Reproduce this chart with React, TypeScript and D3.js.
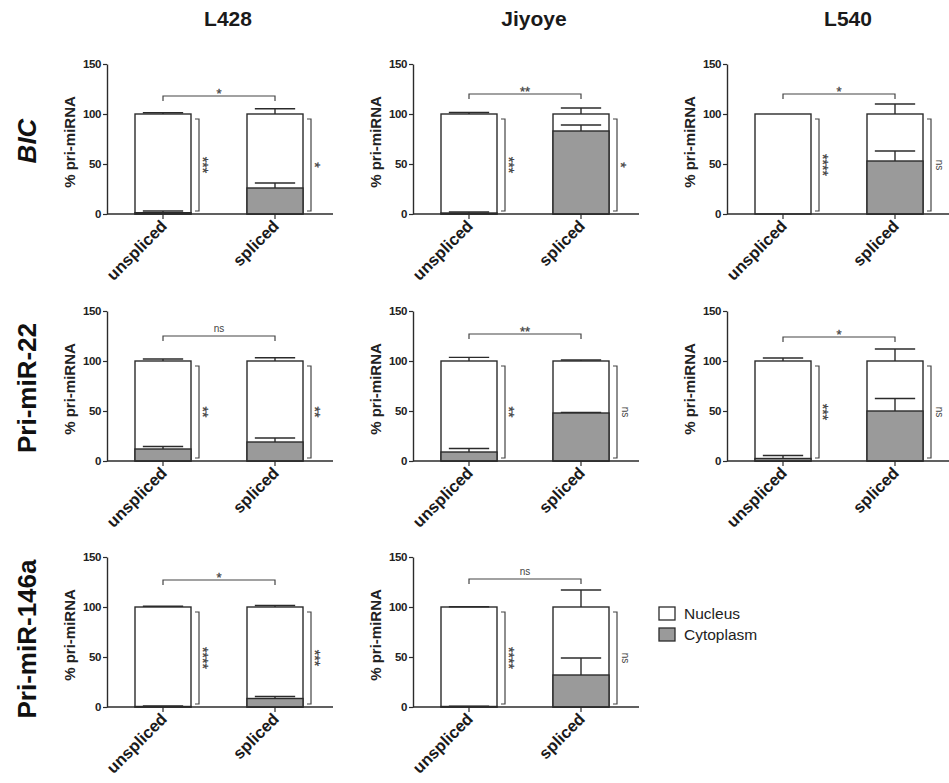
import { select, scaleLinear, scaleBand, axisLeft, axisBottom } from "d3";
import { useEffect, useRef } from "react";

const width = 949;
const height = 783;

const cellLines = ["L428", "Jiyoye", "L540"];
const transcripts = ["BIC", "Pri-miR-22", "Pri-miR-146a"];
const categories = ["unspliced", "spliced"];
const yTicks = [0, 50, 100, 150];

// one entry per panel, read row by row
const panelRow = [0, 0, 0, 1, 1, 1, 2, 2];
const panelCol = [0, 1, 2, 0, 1, 2, 0, 1];
const cytoplasm = [[1.3, 26], [1, 83], [0, 53], [12, 19], [9, 48], [2.5, 50], [0.5, 8.5], [0.5, 32]];
const cytoplasmErr = [[1.7, 5], [1, 6], [0, 10], [2.5, 4], [3.5, 0.6], [3, 12.5], [0.5, 2], [0.3, 17]];
const totalErr = [[1.3, 5.3], [1.5, 6], [0, 10], [2, 3.3], [3.6, 1], [3, 12], [0.7, 1.5], [0.3, 17]];
const compareLevel = [118, 120, 120, 125, 127, 124, 127, 128];
const compareSig = ["*", "**", "*", "ns", "**", "*", "*", "ns"];
const fractionSig = [
  ["***", "*"], ["***", "*"], ["****", "ns"], ["**", "**"],
  ["**", "ns"], ["***", "ns"], ["****", "***"], ["****", "ns"],
];

const legendLabels = ["Nucleus", "Cytoplasm"];
const fills = ["#ffffff", "#9a9a9a"];

const colX = [107, 413, 727];
const rowTop = [64, 311, 557];
const plotH = 150;
const axisW = 226;
const font = "'Liberation Sans', Arial, Helvetica, sans-serif";
const ink = "#2b2b2b";
const sigInk = "#444";

const App = () => {
  const ref = useRef(null);

  useEffect(() => {
    const svg = select(ref.current);
    svg.selectAll("*").remove();
    svg.style("font-family", font);

    // column titles
    cellLines.forEach((name, i) => {
      svg.append("text")
        .attr("x", colX[i] + 121).attr("y", 26)
        .attr("text-anchor", "middle")
        .attr("font-size", 21).attr("font-weight", "bold").attr("fill", "#1a1a1a")
        .text(name);
    });

    // row titles
    transcripts.forEach((name, i) => {
      svg.append("text")
        .attr("transform", `translate(27,${rowTop[i] + 77 + (i === 2 ? 5 : 0)}) rotate(-90)`)
        .attr("dy", "0.36em")
        .attr("text-anchor", "middle")
        .attr("font-size", 26).attr("font-weight", "bold")
        .attr("font-style", i === 0 ? "italic" : "normal")
        .attr("fill", "#111")
        .text(name);
    });

    panelRow.forEach((r, p) => {
      const c = panelCol[p];
      const g = svg.append("g").attr("transform", `translate(${colX[c]},${rowTop[r]})`);
      const y = scaleLinear().domain([0, 150]).range([plotH, 0]);
      const x = scaleBand().domain(categories).range([0, 224]).paddingInner(0.5).paddingOuter(0.25);
      const bw = x.bandwidth();
      const cap = bw * 0.36;

      // y axis
      const ya = g.append("g").call(axisLeft(y).tickValues(yTicks).tickSize(4).tickSizeOuter(0).tickPadding(2));
      ya.select(".domain").attr("stroke", ink).attr("stroke-width", 1.4);
      ya.selectAll(".tick line").attr("stroke", ink).attr("stroke-width", 1.2);
      ya.selectAll(".tick text")
        .attr("font-family", font).attr("font-size", 11.5).attr("font-weight", "bold")
        .attr("letter-spacing", -0.4).attr("fill", "#222");

      g.append("text")
        .attr("transform", `translate(-37,${plotH / 2 + 3}) rotate(-90)`)
        .attr("dy", "0.36em")
        .attr("text-anchor", "middle")
        .attr("font-size", 15).attr("font-weight", "bold").attr("fill", "#222")
        .text("% pri-miRNA");

      // bars
      categories.forEach((cat, k) => {
        const x0 = x(cat);
        const cx = x0 + bw / 2;
        const cy = cytoplasm[p][k];
        g.append("rect")
          .attr("x", x0).attr("y", y(100)).attr("width", bw).attr("height", y(0) - y(100))
          .attr("fill", fills[0]).attr("stroke", ink).attr("stroke-width", 1.4);
        if (cy > 0) {
          g.append("rect")
            .attr("x", x0).attr("y", y(cy)).attr("width", bw).attr("height", y(0) - y(cy))
            .attr("fill", fills[1]).attr("stroke", ink).attr("stroke-width", 1.4);
        }
        const errs = [[100, totalErr[p][k]], [cy, cytoplasmErr[p][k]]];
        errs.forEach(([v, e]) => {
          if (e <= 0) return;
          g.append("line")
            .attr("x1", cx).attr("x2", cx).attr("y1", y(v)).attr("y2", y(v + e))
            .attr("stroke", ink).attr("stroke-width", 1.4);
          g.append("line")
            .attr("x1", cx - cap).attr("x2", cx + cap).attr("y1", y(v + e)).attr("y2", y(v + e))
            .attr("stroke", ink).attr("stroke-width", 1.4);
        });

        // side bracket nucleus vs cytoplasm
        const bx = x0 + bw + 4;
        g.append("path")
          .attr("d", `M${bx},${y(95)}H${bx + 4}V${y(3)}H${bx}`)
          .attr("fill", "none").attr("stroke", sigInk).attr("stroke-width", 1.2);
        const lab = fractionSig[p][k];
        const ns = lab === "ns";
        g.append("text")
          .attr("transform", `translate(${bx + 12},${y(49)}) rotate(90)`)
          .attr("dy", ns ? "0.35em" : "0.65em")
          .attr("text-anchor", "middle")
          .attr("font-size", ns ? 10 : 14).attr("fill", sigInk)
          .attr("stroke", sigInk).attr("stroke-width", ns ? 0 : 0.3)
          .text(lab);
      });

      // x axis
      const xa = g.append("g").attr("transform", `translate(0,${plotH})`)
        .call(axisBottom(x).tickSize(5).tickSizeOuter(0).tickFormat(() => ""));
      xa.select(".domain").attr("d", `M0,0H${axisW}`).attr("stroke", ink).attr("stroke-width", 1.4);
      xa.selectAll(".tick line").attr("stroke", ink).attr("stroke-width", 1.2);

      categories.forEach((cat) => {
        const cx = x(cat) + bw / 2;
        g.append("text")
          .attr("transform", `translate(${cx + 5},${plotH + 13}) rotate(-45)`)
          .attr("text-anchor", "end")
          .attr("font-size", 16.5).attr("font-weight", "bold").attr("fill", "#1a1a1a")
          .text(cat);
      });

      // comparison bracket between categories
      const x1 = x(categories[0]) + bw / 2;
      const x2 = x(categories[1]) + bw / 2;
      const by = y(compareLevel[p]);
      const isNs = compareSig[p] === "ns";
      g.append("path")
        .attr("d", `M${x1},${by + 5}V${by}H${x2}V${by + 5}`)
        .attr("fill", "none").attr("stroke", sigInk).attr("stroke-width", 1.2);
      g.append("text")
        .attr("x", (x1 + x2) / 2).attr("y", isNs ? by - 4 : by + 2)
        .attr("text-anchor", "middle")
        .attr("font-size", isNs ? 10 : 13).attr("fill", sigInk)
        .attr("stroke", sigInk).attr("stroke-width", isNs ? 0 : 0.3)
        .text(compareSig[p]);
    });

    // legend
    const lg = svg.append("g").attr("transform", "translate(659,607)");
    legendLabels.forEach((name, i) => {
      lg.append("rect")
        .attr("x", 0).attr("y", i * 21).attr("width", 16).attr("height", 13)
        .attr("fill", fills[i]).attr("stroke", ink).attr("stroke-width", 1.3);
      lg.append("text")
        .attr("x", 25).attr("y", i * 21 + 12)
        .attr("font-size", 15.5).attr("fill", "#222")
        .text(name);
    });
  }, []);

  return (
    <svg
      ref={ref}
      width={width}
      height={height}
      style={{ position: "absolute", left: 0, top: 0, background: "#fff" }}
    />
  );
};

export default App;
